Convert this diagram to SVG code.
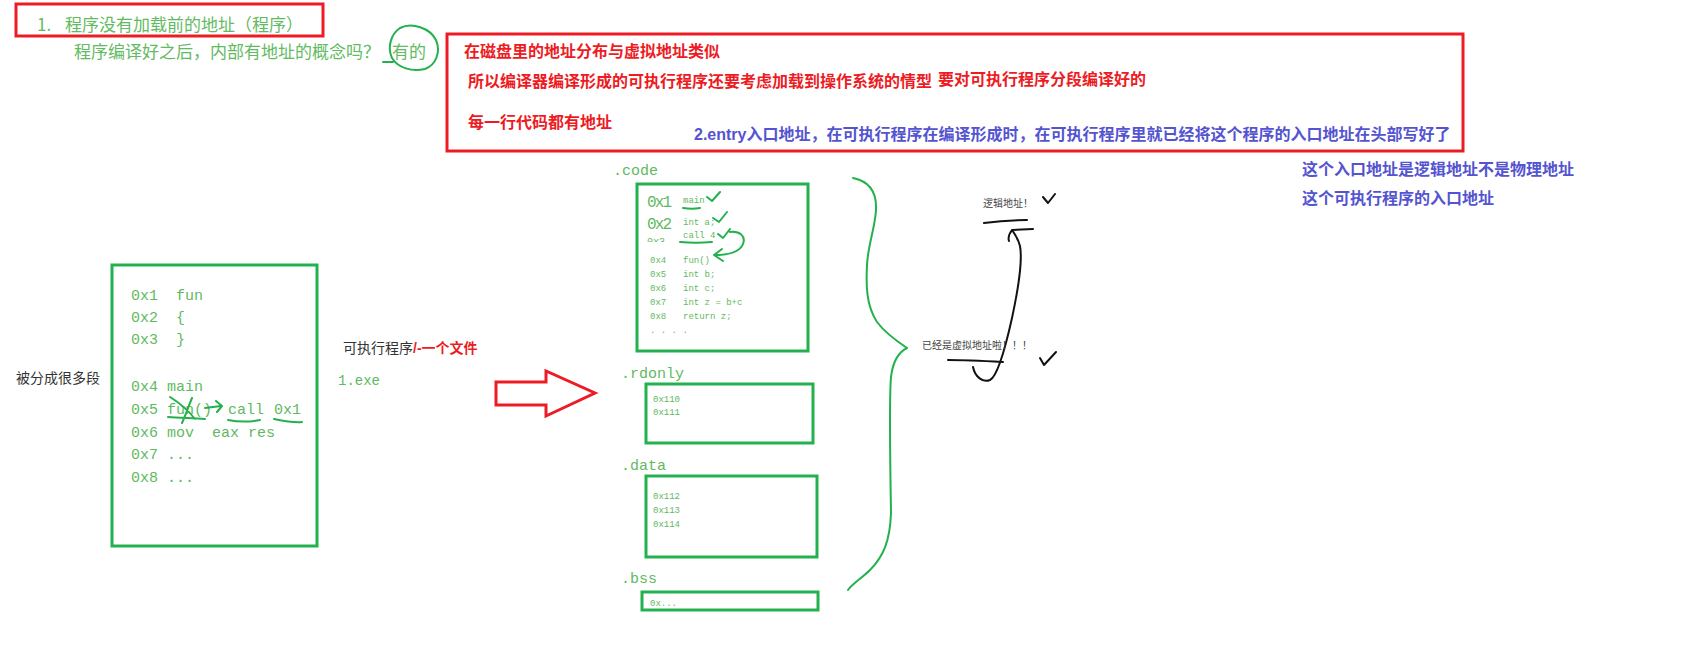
<svg xmlns="http://www.w3.org/2000/svg" width="1700" height="645" viewBox="0 0 1700 645">
<defs>
<style>
.bg{fill:#ffffff}
.redbox{fill:none;stroke:#ed1c24;stroke-width:3}
.greenbox{fill:none;stroke:#22b14c;stroke-width:3}
.gt{font-family:"Noto Sans CJK SC","Liberation Sans",sans-serif;fill:#62bb62}
.mono{font-family:"Liberation Mono","DejaVu Sans Mono",monospace;fill:#5fba5f}
.red{font-family:"Liberation Sans","Noto Sans CJK SC",sans-serif;font-weight:bold;fill:#ed1c24;font-size:16px}
.blue{font-family:"Liberation Sans","Noto Sans CJK SC",sans-serif;font-weight:bold;fill:#5454d0;font-size:16px}
.dark{font-family:"Liberation Sans","Noto Sans CJK SC",sans-serif;fill:#333333;font-size:14px}
.note{font-family:"Noto Sans CJK SC",sans-serif;fill:#444444;font-size:10px}
.pen{fill:none;stroke:#22b14c;stroke-width:2;stroke-linecap:round;stroke-linejoin:round}
.ink{fill:none;stroke:#111111;stroke-width:2;stroke-linecap:round;stroke-linejoin:round}
</style>
<clipPath id="half03"><rect x="640" y="236" width="30" height="6"/></clipPath>
</defs>
<rect class="bg" x="0" y="0" width="1700" height="645"/>

<g id="title">
<rect class="redbox" x="16" y="4" width="307" height="32"/>
<text class="gt" x="37" y="31" font-size="17">1.<tspan x="65">程序没有加载前的地址（程序）</tspan></text>
<text class="gt" x="74" y="58" font-size="17">程序编译好之后，内部有地址的概念吗？<tspan x="392">有的</tspan></text>
<path class="pen" d="M400,28 C412,22 430,28 436,40 C441,52 436,65 425,69 C412,72 398,68 392,58 C387,47 391,34 400,28 M383,62 L393,62"/>
</g>

<g id="notes">
<rect class="redbox" x="447" y="34" width="1016" height="117"/>
<text class="red" x="464" y="57">在磁盘里的地址分布与虚拟地址类似</text>
<text class="red" x="468" y="87">所以编译器编译形成的可执行程序还要考虑加载到操作系统的情型</text>
<text class="red" x="938" y="85">要对可执行程序分段编译好的</text>
<text class="red" x="468" y="128">每一行代码都有地址</text>
<text class="blue" x="694" y="140">2.entry入口地址，在可执行程序在编译形成时，在可执行程序里就已经将这个程序的入口地址在头部写好了</text>
</g>

<g id="entry-note">
<text class="blue" x="1302" y="175">这个入口地址是逻辑地址不是物理地址</text>
<text class="blue" x="1302" y="204">这个可执行程序的入口地址</text>
</g>

<g id="source">
<text class="dark" x="16" y="383">被分成很多段</text>
<rect class="greenbox" x="112" y="265" width="205" height="281"/>
<text class="mono" font-size="15" x="131" y="300" xml:space="preserve">0x1  fun</text>
<text class="mono" font-size="15" x="131" y="322" xml:space="preserve">0x2  {</text>
<text class="mono" font-size="15" x="131" y="344" xml:space="preserve">0x3  }</text>
<text class="mono" font-size="15" x="131" y="391">0x4 main</text>
<text class="mono" font-size="15" x="131" y="414">0x5 fun()</text>
<text class="mono" font-size="15" x="228" y="414">call</text>
<text class="mono" font-size="15" x="274" y="414">0x1</text>
<text class="mono" font-size="15" x="131" y="437" xml:space="preserve">0x6 mov  eax res</text>
<text class="mono" font-size="15" x="131" y="459">0x7 ...</text>
<text class="mono" font-size="15" x="131" y="482">0x8 ...</text>
<path class="pen" d="M170,397 C178,402 188,410 195,419 M182,423 C186,414 189,405 192,398 M168,417 C180,418 193,418 205,419 M205,408 L221,406 M216,401 L222,406 L217,412 M228,420 C238,422 250,422 260,420 M274,419 C284,421 294,423 302,422"/>
</g>

<g id="exe">
<text class="dark" x="343" y="353">可执行程序<tspan fill="#ed1c24" font-weight="bold">/-一个文件</tspan></text>
<text class="mono" font-size="14" x="338" y="385">1.exe</text>
</g>

<g id="connectors">
<path class="redbox" d="M496,382 L546,382 L546,371 L595,393 L546,416 L546,405 L496,405 Z"/>
<path class="pen" d="M853,178 C868,181 877,190 876,210 C875,228 868,245 867,265 C866,285 866,305 877,322 C886,334 898,342 907,348 C899,352 893,360 891,377 C889,400 890,450 891,513 C890,540 884,556 870,570 C862,578 852,584 848,590"/>
<path class="ink" d="M973,367 C975,377 983,383 990,380 C998,376 1006,345 1012,318 C1018,290 1023,262 1020,246 C1018,238 1014,233 1012,230 M1012,230 L1033,229 M1012,230 C1009,234 1008,238 1009,241"/>
</g>

<g id="code">
<text class="mono" font-size="15" x="613" y="175">.code</text>
<rect class="greenbox" x="637" y="184" width="171" height="167"/>
<text class="mono" font-size="16" x="647" y="207" textLength="25">0x1</text>
<text class="mono" font-size="9" x="683" y="203">main</text>
<text class="mono" font-size="16" x="647" y="229" textLength="25">0x2</text>
<text class="mono" font-size="9" x="683" y="225">int a;</text>
<text class="mono" font-size="10" x="647" y="245" clip-path="url(#half03)">0x3</text>
<text class="mono" font-size="9" x="683" y="238">call 4</text>
<text class="mono" font-size="9" x="650" y="263">0x4</text><text class="mono" font-size="9" x="683" y="263">fun()</text>
<text class="mono" font-size="9" x="650" y="277">0x5</text><text class="mono" font-size="9" x="683" y="277">int b;</text>
<text class="mono" font-size="9" x="650" y="291">0x6</text><text class="mono" font-size="9" x="683" y="291">int c;</text>
<text class="mono" font-size="9" x="650" y="305">0x7</text><text class="mono" font-size="9" x="683" y="305">int z = b+c</text>
<text class="mono" font-size="9" x="650" y="319">0x8</text><text class="mono" font-size="9" x="683" y="319">return z;</text>
<text class="mono" font-size="9" x="650" y="333" xml:space="preserve">. . . .</text>
<path class="pen" d="M683,208 C689,209 695,209 700,208 M707,197 L712,201 L720,192 M713,218 L719,222 L727,212 M680,242 C690,243 702,243 712,242 M718,234 L723,238 L730,229 M730,232 C740,231 746,236 743,244 C740,252 728,255 714,255 M714,255 L722,249 M714,255 L723,261"/>
</g>

<g id="rdonly">
<text class="mono" font-size="15" x="621" y="378">.rdonly</text>
<rect class="greenbox" x="646" y="384" width="167" height="59"/>
<text class="mono" font-size="9" x="653" y="402">0x110</text>
<text class="mono" font-size="9" x="653" y="415">0x111</text>
</g>

<g id="data">
<text class="mono" font-size="15" x="621" y="470">.data</text>
<rect class="greenbox" x="646" y="476" width="171" height="81"/>
<text class="mono" font-size="9" x="653" y="499">0x112</text>
<text class="mono" font-size="9" x="653" y="513">0x113</text>
<text class="mono" font-size="9" x="653" y="527">0x114</text>
</g>

<g id="bss">
<text class="mono" font-size="15" x="621" y="583">.bss</text>
<rect class="greenbox" x="642" y="592" width="176" height="18"/>
<text class="mono" font-size="9" x="650" y="606">0x...</text>
</g>

<g id="address-notes">
<text class="note" x="983" y="207">逻辑地址！</text>
<path class="ink" d="M984,223 C998,221 1013,220 1027,220 M1043,197 L1048,203 L1055,194"/>
<text class="note" x="922" y="349">已经是虚拟地址啦！！！</text>
<path class="ink" d="M948,360 C966,360 985,361 1003,362 M1040,358 L1044,365 L1056,352"/>
</g>
</svg>
